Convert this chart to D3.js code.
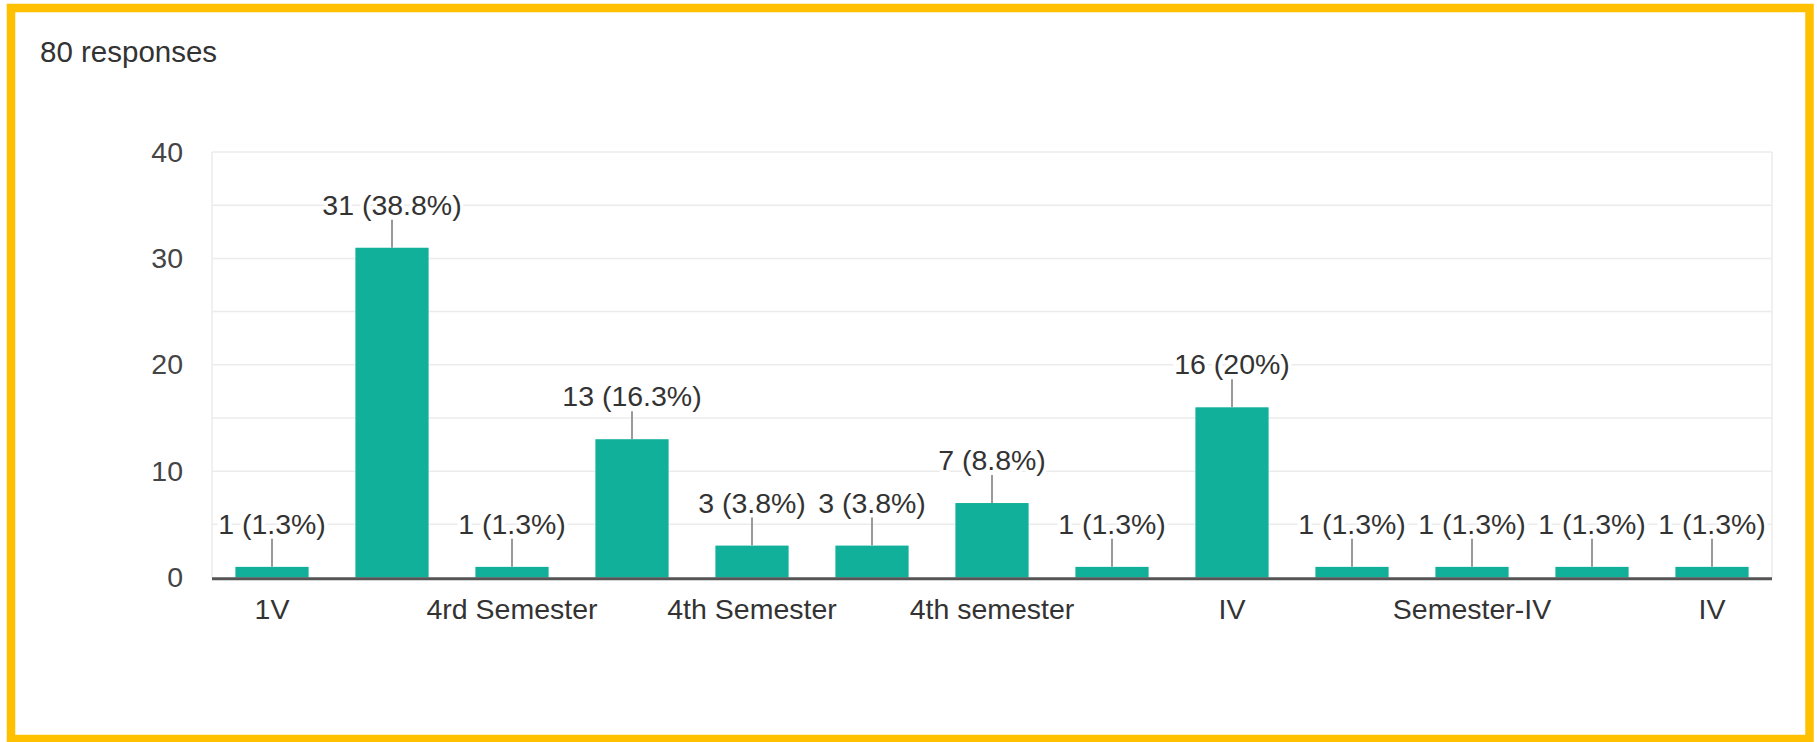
<!DOCTYPE html>
<html>
<head>
<meta charset="utf-8">
<script src="https://cdn.jsdelivr.net/npm/d3@7"></script>
<style>
  html, body { margin: 0; padding: 0; background: #fff; }
  svg text { font-family: Arial, "Liberation Sans", sans-serif; }
</style>
</head>
<body>
<svg id="chart" width="1817" height="742"></svg>
<script>
// answers (odd ones have their tick label skipped in the chart)
var categories = ['1V', '4', '4rd Semester', '4th', '4th Semester', '4th sem',
    '4th semester', 'Fourth', 'IV', 'IV Semester', 'Semester-IV', 'Semester IV', 'IV '];
var counts = [1, 31, 1, 13, 3, 3, 7, 1, 16, 1, 1, 1, 1];
var total_responses = 80;
var y_ticks = [0, 10, 20, 30, 40];
var grid_ticks = [5, 10, 15, 20, 25, 30, 35, 40];

var svg = d3.select('#chart');
var teal = '#10b09a';
var font_size = 28.5;

var x = d3.scaleBand()
    .domain(d3.range(categories.length))
    .range([212, 1772])
    .paddingInner(0.39)
    .paddingOuter(0.195);

var y = d3.scaleLinear()
    .domain([0, 40])
    .range([577.5, 152]);

var pct_label = function(v) {
    var p = Math.round(v * 1000 / total_responses) / 10;
    return v + ' (' + p + '%)';
};

// yellow frame
svg.append('rect')
    .attr('x', 11)
    .attr('y', 8)
    .attr('width', 1798.5)
    .attr('height', 731)
    .attr('fill', 'white')
    .attr('stroke', '#ffc000')
    .attr('stroke-width', 8.5);

svg.append('text')
    .attr('x', 40)
    .attr('y', 62)
    .attr('font-size', 29.5)
    .attr('fill', '#333')
    .text(total_responses + ' responses');

// grid
svg.selectAll('line.grid')
    .data(grid_ticks)
    .enter()
    .append('line')
    .attr('class', 'grid')
    .attr('x1', 212)
    .attr('x2', 1772)
    .attr('y1', function(d) { return y(d); })
    .attr('y2', function(d) { return y(d); })
    .attr('stroke', '#ebebeb')
    .attr('stroke-width', 1.5);

svg.selectAll('line.frame')
    .data([212, 1772])
    .enter()
    .append('line')
    .attr('class', 'frame')
    .attr('x1', function(d) { return d; })
    .attr('x2', function(d) { return d; })
    .attr('y1', y(40))
    .attr('y2', y(0))
    .attr('stroke', '#ebebeb')
    .attr('stroke-width', 1.5);

// y axis labels
var y_axis = svg.append('g')
    .attr('transform', 'translate(183,0)')
    .call(d3.axisLeft(y).tickValues(y_ticks).tickSize(0).tickPadding(0));
y_axis.select('.domain').remove();
y_axis.selectAll('text')
    .attr('font-size', font_size)
    .attr('font-family', 'Arial, "Liberation Sans", sans-serif')
    .attr('fill', '#444');

// bars
svg.selectAll('rect.bar')
    .data(counts)
    .enter()
    .append('rect')
    .attr('class', 'bar')
    .attr('x', function(d, i) { return x(i); })
    .attr('y', function(d) { return y(d); })
    .attr('width', x.bandwidth())
    .attr('height', function(d) { return y(0) - y(d); })
    .attr('fill', teal);

// baseline
svg.append('line')
    .attr('x1', 212)
    .attr('x2', 1772)
    .attr('y1', y(0) + 1.2)
    .attr('y2', y(0) + 1.2)
    .attr('stroke', '#555')
    .attr('stroke-width', 3);

// x axis labels, every other category
var x_axis = svg.append('g')
    .attr('transform', 'translate(0,' + (y(0) + 1) + ')')
    .call(d3.axisBottom(x)
        .tickValues(d3.range(0, categories.length, 2))
        .tickFormat(function(i) { return categories[i]; })
        .tickSize(0)
        .tickPadding(20));
x_axis.select('.domain').remove();
x_axis.selectAll('text')
    .attr('font-size', font_size)
    .attr('font-family', 'Arial, "Liberation Sans", sans-serif')
    .attr('fill', '#333');

// value labels with a white halo over the grid
svg.selectAll('text.value')
    .data(counts)
    .enter()
    .append('text')
    .attr('class', 'value')
    .attr('x', function(d, i) { return x(i) + x.bandwidth() / 2; })
    .attr('y', function(d) { return y(d) - 33; })
    .attr('text-anchor', 'middle')
    .attr('font-size', font_size)
    .attr('fill', '#333')
    .attr('stroke', 'white')
    .attr('stroke-width', 7)
    .attr('paint-order', 'stroke')
    .text(pct_label);

svg.selectAll('line.leader')
    .data(counts)
    .enter()
    .append('line')
    .attr('class', 'leader')
    .attr('x1', function(d, i) { return x(i) + x.bandwidth() / 2; })
    .attr('x2', function(d, i) { return x(i) + x.bandwidth() / 2; })
    .attr('y1', function(d) { return y(d); })
    .attr('y2', function(d) { return y(d) - 28; })
    .attr('stroke', '#999')
    .attr('stroke-width', 2);
</script>
</body>
</html>
